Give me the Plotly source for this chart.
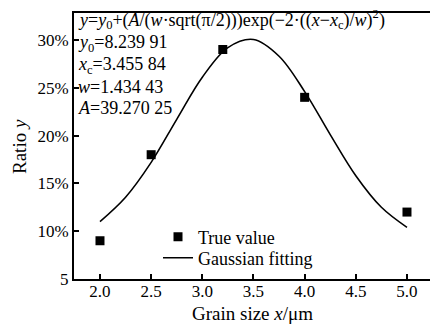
import plotly.graph_objects as go

# True values
grain_size = [2.0, 2.5, 3.2, 4.0, 5.0]
ratio = [9.0, 18.0, 29.0, 24.0, 12.0]

# Gaussian fitting curve
fit_x = [2.0, 2.25, 2.5, 2.75, 3.0, 3.25, 3.5, 3.75, 4.0, 4.25, 4.5, 4.75, 5.0]
fit_y = [11.0, 13.55, 17.2, 21.7, 26.1, 29.2, 30.05, 28.3, 24.6, 20.1, 15.8, 12.5, 10.4]

x_ticks = [2.0, 2.5, 3.0, 3.5, 4.0, 4.5, 5.0]
x_ticktext = ["2.0", "2.5", "3.0", "3.5", "4.0", "4.5", "5.0"]
y_ticks = [5, 10, 15, 20, 25, 30]
y_ticktext = ["5", "10%", "15%", "20%", "25%", "30%"]

FONT = "Liberation Serif, Times New Roman, serif"
L, R, T, B = 74, 430, 13, 279
PW, PH = R - L, B - T


def px(xp):
    return (xp - L) / PW


def py(yp):
    return (B - yp) / PH


fig = go.Figure()
fig.add_trace(go.Scatter(
    x=grain_size, y=ratio, mode="markers", name="True value",
    marker=dict(symbol="square", size=9, color="black"), legend="legend",
))
fig.add_trace(go.Scatter(
    x=fit_x, y=fit_y, mode="lines", name="Gaussian fitting",
    line=dict(color="black", width=1.6, shape="spline"), legend="legend2",
))

formula_lines = [
    "<i>y</i>=<i>y</i><sub>0</sub>+(<i>A</i>/(<i>w</i>·sqrt(π/2)))exp(−2·((<i>x</i>−<i>x</i><sub>c</sub>)/<i>w</i>)<sup>2</sup>)",
    "<i>y</i><sub>0</sub>=8.239 91",
    "<i>x</i><sub>c</sub>=3.455 84",
    "<i>w</i>=1.434 43",
    "<i>A</i>=39.270 25",
]
ys_px = [20, 43, 65, 87, 108]
for txt, yp in zip(formula_lines, ys_px):
    fig.add_annotation(
        text=txt, xref="paper", yref="paper",
        x=px(76), y=py(yp),
        xanchor="left", yanchor="middle", showarrow=False,
        font=dict(family=FONT, size=18, color="black"),
    )

# axis titles
fig.add_annotation(
    text="Grain size <i>x</i>/μm", xref="paper", yref="paper",
    x=px(252), y=py(313), xanchor="center", yanchor="middle", showarrow=False,
    font=dict(family=FONT, size=19, color="black"),
)
fig.add_annotation(
    text="Ratio <i>y</i>", xref="paper", yref="paper",
    x=px(19), y=py(147), xanchor="center", yanchor="middle", showarrow=False,
    textangle=-90, font=dict(family=FONT, size=19, color="black"),
)

leg_common = dict(
    xanchor="left", yanchor="middle", bgcolor="rgba(0,0,0,0)",
    font=dict(family=FONT, size=18, color="black"), itemwidth=30,
)

fig.update_layout(
    width=430, height=324,
    margin=dict(l=L, r=430 - R, t=T, b=324 - B),
    paper_bgcolor="white", plot_bgcolor="white",
    font=dict(family=FONT, size=18, color="black"),
    showlegend=True,
    legend=dict(x=px(158), y=py(237), **leg_common),
    legend2=dict(x=px(158), y=py(258), **leg_common),
    xaxis=dict(
        range=[1.746, 5.225], tickvals=x_ticks, ticktext=x_ticktext,
        showgrid=False, zeroline=False, showline=True, linecolor="black",
        linewidth=2, mirror=True, ticks="inside", ticklen=5, tickwidth=1.5,
        tickcolor="black", tickfont=dict(family=FONT, size=17), automargin=False,
        ticklabelstandoff=-4,
    ),
    yaxis=dict(
        range=[5, 32.82], tickvals=y_ticks, ticktext=y_ticktext,
        showgrid=False, zeroline=False, showline=True, linecolor="black",
        linewidth=2, ticks="inside", ticklen=5, tickwidth=1.5,
        tickcolor="black", tickfont=dict(family=FONT, size=17), automargin=False,
    ),
)

fig.write_html(
    "out.html",
    config={"displayModeBar": False},
    post_script="document.body.style.margin='0';",
)
